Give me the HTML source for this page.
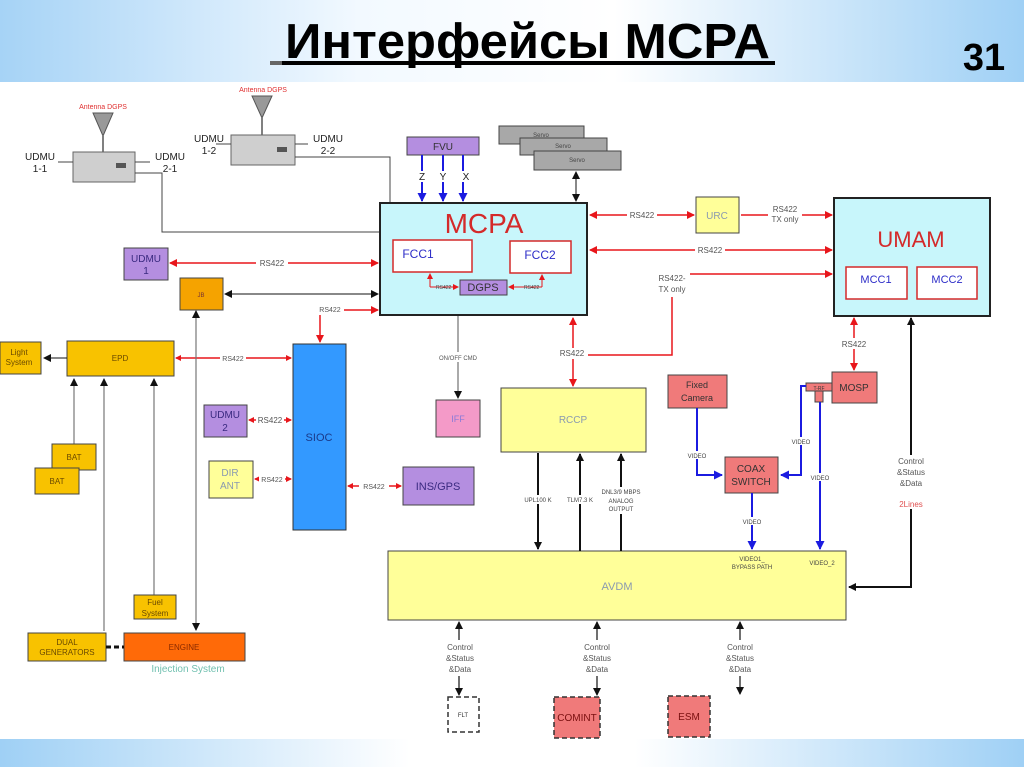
<!DOCTYPE html>
<html><head><meta charset="utf-8"><style>
html,body{margin:0;padding:0;width:1024px;height:767px;overflow:hidden;background:#fff}
svg{display:block}
text{font-family:"Liberation Sans",Arial,sans-serif}
</style></head><body>
<svg width="1024" height="767" viewBox="0 0 1024 767" xmlns="http://www.w3.org/2000/svg">
<defs>
<linearGradient id="hg" x1="0" x2="1" y1="0" y2="0">
<stop offset="0" stop-color="#a6d3f6"/><stop offset="0.35" stop-color="#f2f9ff"/><stop offset="0.6" stop-color="#ffffff"/><stop offset="1" stop-color="#9fd0f5"/></linearGradient>
<linearGradient id="fg" x1="0" x2="1" y1="0" y2="0">
<stop offset="0" stop-color="#9fd0f5"/><stop offset="0.4" stop-color="#ffffff"/><stop offset="0.62" stop-color="#ffffff"/><stop offset="1" stop-color="#9fd0f5"/></linearGradient>
<marker id="r" markerWidth="8" markerHeight="8" refX="7" refY="4" orient="auto-start-reverse" markerUnits="userSpaceOnUse"><path d="M0,0 L8,4 L0,8 z" fill="#e8161b"/></marker>
<marker id="rs" markerWidth="6" markerHeight="6" refX="5" refY="3" orient="auto-start-reverse" markerUnits="userSpaceOnUse"><path d="M0,0 L6,3 L0,6 z" fill="#e8161b"/></marker>
<marker id="k" markerWidth="8" markerHeight="8" refX="7" refY="4" orient="auto-start-reverse" markerUnits="userSpaceOnUse"><path d="M0,0 L8,4 L0,8 z" fill="#111"/></marker>
<marker id="b" markerWidth="9" markerHeight="9" refX="8" refY="4.5" orient="auto-start-reverse" markerUnits="userSpaceOnUse"><path d="M0,0 L9,4.5 L0,9 z" fill="#1b1be0"/></marker>
</defs>
<rect x="0" y="0" width="1024" height="82" fill="url(#hg)"/>
<rect x="0" y="739" width="1024" height="28" fill="url(#fg)"/>
<text x="285" y="58" font-size="49" font-weight="bold" fill="#000" textLength="485" lengthAdjust="spacingAndGlyphs">Интерфейсы MCPA</text>
<rect x="270" y="61" width="505" height="4" fill="#000"/><rect x="270" y="61" width="12" height="4" fill="#666"/>
<text x="984" y="70" text-anchor="middle" font-size="38" font-weight="bold" fill="#000">31</text>

<g font-size="8" fill="#444">
<text x="103" y="109" text-anchor="middle" fill="#e03030" font-size="7">Antenna DGPS</text>
<path d="M93,113 L113,113 L103,136 z" fill="#999" stroke="#555"/><line x1="103" y1="136" x2="103" y2="152" stroke="#555" stroke-width="1.5"/>
<rect x="73" y="152" width="62" height="30" fill="#cfcfcf" stroke="#666"/><rect x="116" y="163" width="10" height="5" fill="#555"/>
<text x="40" y="160" text-anchor="middle" font-size="10" fill="#222">UDMU</text><text x="40" y="172" text-anchor="middle" font-size="10" fill="#222">1-1</text>
<text x="170" y="160" text-anchor="middle" font-size="10" fill="#222">UDMU</text><text x="170" y="172" text-anchor="middle" font-size="10" fill="#222">2-1</text>
<line x1="58" y1="162" x2="73" y2="162" stroke="#444"/><line x1="135" y1="162" x2="150" y2="162" stroke="#444"/>
<text x="263" y="92" text-anchor="middle" fill="#e03030" font-size="7">Antenna DGPS</text>
<path d="M252,96 L272,96 L262,118 z" fill="#999" stroke="#555"/><line x1="262" y1="118" x2="262" y2="135" stroke="#555" stroke-width="1.5"/>
<rect x="231" y="135" width="64" height="30" fill="#cfcfcf" stroke="#666"/><rect x="277" y="147" width="10" height="5" fill="#555"/>
<text x="209" y="142" text-anchor="middle" font-size="10" fill="#222">UDMU</text><text x="209" y="154" text-anchor="middle" font-size="10" fill="#222">1-2</text>
<text x="328" y="142" text-anchor="middle" font-size="10" fill="#222">UDMU</text><text x="328" y="154" text-anchor="middle" font-size="10" fill="#222">2-2</text>
<line x1="216" y1="144" x2="231" y2="144" stroke="#444"/><line x1="295" y1="144" x2="308" y2="144" stroke="#444"/>
<polyline points="135,173 162,173 162,232 380,232" fill="none" stroke="#444"/>
<polyline points="295,157 390,157 390,203" fill="none" stroke="#444"/>

<rect x="380" y="203" width="207" height="112" fill="#c8f6fb" stroke="#222" stroke-width="2"/>
<text x="484" y="233" text-anchor="middle" font-size="28" fill="#d42a2a">MCPA</text>
<rect x="393" y="240" width="79" height="32" fill="#fff" stroke="#d42a2a" stroke-width="1.5"/>
<text x="418" y="258" text-anchor="middle" font-size="12" fill="#2d2dc8">FCC1</text>
<rect x="510" y="241" width="61" height="32" fill="#fff" stroke="#d42a2a" stroke-width="1.5"/>
<text x="540" y="259" text-anchor="middle" font-size="12" fill="#2d2dc8">FCC2</text>
<rect x="460" y="280" width="47" height="15" fill="#b48ee0" stroke="#444"/>
<text x="483" y="291" text-anchor="middle" font-size="11" fill="#333">DGPS</text>
<line x1="430" y1="287" x2="458" y2="287" stroke="#e8161b" marker-end="url(#rs)"/>
<line x1="430" y1="287" x2="430" y2="274" stroke="#e8161b" marker-end="url(#rs)"/>
<line x1="542" y1="287" x2="509" y2="287" stroke="#e8161b" marker-end="url(#rs)"/>
<line x1="542" y1="287" x2="542" y2="275" stroke="#e8161b" marker-end="url(#rs)"/>
<text x="436" y="289" font-size="5">RS422</text><text x="524" y="289" font-size="5">RS422</text>

<rect x="407" y="137" width="72" height="18" fill="#b48ee0" stroke="#444"/>
<text x="443" y="150" text-anchor="middle" font-size="10" fill="#333">FVU</text>
<g stroke="#1b1be0" stroke-width="2"><line x1="422" y1="155" x2="422" y2="201" marker-end="url(#b)"/><line x1="443" y1="155" x2="443" y2="201" marker-end="url(#b)"/><line x1="463" y1="155" x2="463" y2="201" marker-end="url(#b)"/></g>
<g font-size="10" fill="#222"><rect x="416" y="171" width="12" height="11" fill="#fff"/><rect x="437" y="171" width="12" height="11" fill="#fff"/><rect x="457" y="171" width="12" height="11" fill="#fff"/>
<text x="422" y="180" text-anchor="middle">Z</text><text x="443" y="180" text-anchor="middle">Y</text><text x="466" y="180" text-anchor="middle">X</text></g>
<rect x="499" y="126" width="85" height="18" fill="#a8a8a8" stroke="#444"/><text x="541" y="137" text-anchor="middle" font-size="6">Servo</text>
<rect x="520" y="138" width="87" height="17" fill="#a8a8a8" stroke="#444"/><text x="563" y="148" text-anchor="middle" font-size="6">Servo</text>
<rect x="534" y="151" width="87" height="19" fill="#a8a8a8" stroke="#444"/><text x="577" y="162" text-anchor="middle" font-size="6">Servo</text>
<line x1="576" y1="172" x2="576" y2="201" stroke="#111" marker-start="url(#k)" marker-end="url(#k)"/>

<rect x="696" y="197" width="43" height="36" fill="#ffff99" stroke="#444"/>
<text x="717" y="219" text-anchor="middle" font-size="10" fill="#8a9ab0">URC</text>
<rect x="834" y="198" width="156" height="118" fill="#c8f6fb" stroke="#222" stroke-width="2"/>
<text x="911" y="247" text-anchor="middle" font-size="22" fill="#d42a2a">UMAM</text>
<rect x="846" y="267" width="61" height="32" fill="#fff" stroke="#d42a2a" stroke-width="1.5"/>
<text x="876" y="283" text-anchor="middle" font-size="11" fill="#2d2dc8">MCC1</text>
<rect x="917" y="267" width="60" height="32" fill="#fff" stroke="#d42a2a" stroke-width="1.5"/>
<text x="947" y="283" text-anchor="middle" font-size="11" fill="#2d2dc8">MCC2</text>
<g stroke="#e8161b" stroke-width="1.5" fill="none">
<line x1="590" y1="215" x2="694" y2="215" marker-start="url(#r)" marker-end="url(#r)"/>
<line x1="741" y1="215" x2="832" y2="215" marker-end="url(#r)"/>
<line x1="590" y1="250" x2="832" y2="250" marker-start="url(#r)" marker-end="url(#r)"/>
<line x1="680" y1="274" x2="832" y2="274" marker-end="url(#r)"/>
<polyline points="672,297 672,355 588,355"/>
<line x1="573" y1="386" x2="573" y2="318" marker-start="url(#r)" marker-end="url(#r)"/>
<line x1="170" y1="263" x2="378" y2="263" marker-start="url(#r)" marker-end="url(#r)"/>
<line x1="318" y1="310" x2="378" y2="310" marker-end="url(#r)"/>
<line x1="320" y1="310" x2="320" y2="342" marker-end="url(#r)"/>
<line x1="176" y1="358" x2="291" y2="358" marker-start="url(#rs)" marker-end="url(#rs)"/>
<line x1="249" y1="420" x2="291" y2="420" marker-start="url(#rs)" marker-end="url(#rs)"/>
<line x1="255" y1="479" x2="291" y2="479" marker-start="url(#rs)" marker-end="url(#rs)"/>
<line x1="348" y1="486" x2="401" y2="486" marker-start="url(#rs)" marker-end="url(#rs)"/>
<line x1="854" y1="318" x2="854" y2="370" marker-start="url(#r)" marker-end="url(#r)"/>
</g>
<g font-size="8" fill="#555" text-anchor="middle">
<rect x="627" y="209" width="30" height="11" fill="#fff"/><text x="642" y="218">RS422</text>
<rect x="768" y="204" width="34" height="22" fill="#fff"/><text x="785" y="212">RS422</text><text x="785" y="222">TX only</text>
<rect x="695" y="244" width="30" height="11" fill="#fff"/><text x="710" y="253">RS422</text>
<rect x="654" y="270" width="36" height="26" fill="#fff"/><text x="672" y="281">RS422-</text><text x="672" y="292">TX only</text>
<rect x="557" y="348" width="30" height="11" fill="#fff"/><text x="572" y="356">RS422</text>
<rect x="256" y="257" width="32" height="11" fill="#fff"/><text x="272" y="266">RS422</text>
<rect x="316" y="304" width="28" height="11" fill="#fff"/><text x="330" y="312" font-size="7">RS422</text>
<rect x="220" y="353" width="26" height="10" fill="#fff"/><text x="233" y="361" font-size="7">RS422</text>
<rect x="256" y="415" width="28" height="10" fill="#fff"/><text x="270" y="423">RS422</text>
<rect x="259" y="474" width="26" height="10" fill="#fff"/><text x="272" y="482" font-size="7">RS422</text>
<rect x="359" y="481" width="30" height="10" fill="#fff"/><text x="374" y="489" font-size="7">RS422</text>
<rect x="840" y="338" width="30" height="11" fill="#fff"/><text x="854" y="347">RS422</text>
</g>

<rect x="124" y="248" width="44" height="32" fill="#b48ee0" stroke="#444"/>
<text x="146" y="262" text-anchor="middle" font-size="10" fill="#3a2a80">UDMU</text><text x="146" y="274" text-anchor="middle" font-size="10" fill="#3a2a80">1</text>
<rect x="180" y="278" width="43" height="32" fill="#f5a300" stroke="#444"/>
<text x="201" y="297" text-anchor="middle" font-size="6" fill="#733">JB</text>
<line x1="225" y1="294" x2="378" y2="294" stroke="#111" marker-start="url(#k)" marker-end="url(#k)"/>
<line x1="196" y1="311" x2="196" y2="630" stroke="#777" stroke-width="1.2" marker-start="url(#k)" marker-end="url(#k)"/>
<rect x="67" y="341" width="107" height="35" fill="#f8c200" stroke="#444"/>
<text x="120" y="361" text-anchor="middle" font-size="8" fill="#6a4a00">EPD</text>
<rect x="0" y="342" width="41" height="32" fill="#f8c200" stroke="#444"/>
<text x="19" y="355" text-anchor="middle" font-size="8" fill="#6a4a00">Light</text><text x="19" y="365" text-anchor="middle" font-size="8" fill="#6a4a00">System</text>
<line x1="67" y1="358" x2="44" y2="358" stroke="#111" marker-end="url(#k)"/>
<g stroke="#777" stroke-width="1.2">
<line x1="74" y1="444" x2="74" y2="379" marker-end="url(#k)"/>
<line x1="104" y1="631" x2="104" y2="379" marker-end="url(#k)"/>
<line x1="154" y1="595" x2="154" y2="379" marker-end="url(#k)"/>
</g>
<rect x="52" y="444" width="44" height="26" fill="#f8c200" stroke="#444"/><text x="74" y="460" text-anchor="middle" font-size="8" fill="#6a4a00">BAT</text>
<rect x="35" y="468" width="44" height="26" fill="#f8c200" stroke="#444"/><text x="57" y="484" text-anchor="middle" font-size="8" fill="#6a4a00">BAT</text>
<rect x="134" y="595" width="42" height="24" fill="#f8c200" stroke="#444"/>
<text x="155" y="605" text-anchor="middle" font-size="8" fill="#6a4a00">Fuel</text><text x="155" y="616" text-anchor="middle" font-size="8" fill="#6a4a00">System</text>
<rect x="28" y="633" width="78" height="28" fill="#f8c200" stroke="#444"/>
<text x="67" y="645" text-anchor="middle" font-size="8" fill="#6a4a00">DUAL</text><text x="67" y="655" text-anchor="middle" font-size="8" fill="#6a4a00">GENERATORS</text>
<rect x="124" y="633" width="121" height="28" fill="#ff6a08" stroke="#444"/>
<text x="184" y="650" text-anchor="middle" font-size="8" fill="#8a2a00">ENGINE</text>
<line x1="106" y1="647" x2="124" y2="647" stroke="#111" stroke-width="3" stroke-dasharray="5,3"/>
<text x="188" y="672" text-anchor="middle" font-size="10" fill="#70c0b0">Injection System</text>

<rect x="293" y="344" width="53" height="186" fill="#3399ff" stroke="#333"/>
<text x="319" y="441" text-anchor="middle" font-size="11" fill="#1a3a8a">SIOC</text>
<rect x="204" y="405" width="43" height="32" fill="#b48ee0" stroke="#444"/>
<text x="225" y="418" text-anchor="middle" font-size="10" fill="#3a2a80">UDMU</text><text x="225" y="431" text-anchor="middle" font-size="10" fill="#3a2a80">2</text>
<rect x="209" y="461" width="44" height="37" fill="#ffff99" stroke="#444"/>
<text x="230" y="476" text-anchor="middle" font-size="10" fill="#8a9ab0">DIR</text><text x="230" y="489" text-anchor="middle" font-size="10" fill="#8a9ab0">ANT</text>
<rect x="403" y="467" width="71" height="38" fill="#b48ee0" stroke="#444"/>
<text x="438" y="490" text-anchor="middle" font-size="11" fill="#3a2a80">INS/GPS</text>
<line x1="458" y1="316" x2="458" y2="398" stroke="#555" marker-end="url(#k)"/>
<rect x="433" y="352" width="50" height="10" fill="#fff"/><text x="458" y="360" text-anchor="middle" font-size="6" fill="#555">ON/OFF CMD</text>
<rect x="436" y="400" width="44" height="37" fill="#f49ac8" stroke="#444"/>
<text x="458" y="422" text-anchor="middle" font-size="9" fill="#8a7ad8">IFF</text>

<rect x="501" y="388" width="145" height="64" fill="#ffff99" stroke="#444"/>
<text x="573" y="423" text-anchor="middle" font-size="10" fill="#8a9ab0">RCCP</text>
<rect x="388" y="551" width="458" height="69" fill="#ffff99" stroke="#444"/>
<text x="617" y="590" text-anchor="middle" font-size="11" fill="#8a9ab0">AVDM</text>
<g stroke="#111" stroke-width="2">
<line x1="538" y1="453" x2="538" y2="549" marker-end="url(#k)"/>
<line x1="580" y1="551" x2="580" y2="454" marker-end="url(#k)"/>
<line x1="621" y1="551" x2="621" y2="454" marker-end="url(#k)"/>
</g>
<g font-size="6" fill="#444" text-anchor="middle">
<rect x="518" y="495" width="40" height="9" fill="#fff"/><text x="538" y="502">UPL100 K</text>
<rect x="562" y="495" width="36" height="9" fill="#fff"/><text x="580" y="502">TLM7.3 K</text>
<rect x="598" y="487" width="46" height="27" fill="#fff"/><text x="621" y="494">DNL3/9 MBPS</text><text x="621" y="503">ANALOG</text><text x="621" y="511">OUTPUT</text>
<text x="752" y="561">VIDEO1_</text><text x="752" y="569">BYPASS PATH</text>
<text x="822" y="565">VIDEO_2</text>
</g>

<rect x="668" y="375" width="59" height="33" fill="#f07a7a" stroke="#444"/>
<text x="697" y="388" text-anchor="middle" font-size="9" fill="#333">Fixed</text><text x="697" y="401" text-anchor="middle" font-size="9" fill="#333">Camera</text>
<rect x="725" y="457" width="53" height="36" fill="#f07a7a" stroke="#444"/>
<text x="751" y="472" text-anchor="middle" font-size="10" fill="#333">COAX</text><text x="751" y="485" text-anchor="middle" font-size="10" fill="#333">SWITCH</text>
<rect x="832" y="372" width="45" height="31" fill="#f07a7a" stroke="#444"/>
<text x="854" y="391" text-anchor="middle" font-size="10" fill="#333">MOSP</text>
<rect x="806" y="383" width="26" height="8" fill="#f07a7a" stroke="#444"/><text x="819" y="390" text-anchor="middle" font-size="5" fill="#333">T-RF</text>
<rect x="815" y="391" width="8" height="11" fill="#f07a7a" stroke="#444"/>
<g stroke="#1b1be0" stroke-width="2" fill="none">
<polyline points="697,408 697,475 722,475" marker-end="url(#b)"/>
<polyline points="806,386 801,386 801,475 781,475" marker-end="url(#b)"/>
<line x1="820" y1="402" x2="820" y2="549" marker-end="url(#b)"/>
<line x1="752" y1="493" x2="752" y2="549" marker-end="url(#b)"/>
</g>
<g font-size="6" fill="#444" text-anchor="middle">
<rect x="685" y="451" width="24" height="8" fill="#fff"/><text x="697" y="458">VIDEO</text>
<rect x="789" y="437" width="24" height="8" fill="#fff"/><text x="801" y="444">VIDEO</text>
<rect x="808" y="473" width="24" height="8" fill="#fff"/><text x="820" y="480">VIDEO</text>
<rect x="740" y="517" width="24" height="8" fill="#fff"/><text x="752" y="524">VIDEO</text>
</g>

<polyline points="911,318 911,587 849,587" fill="none" stroke="#111" stroke-width="2" marker-start="url(#k)" marker-end="url(#k)"/>
<rect x="893" y="455" width="36" height="54" fill="#fff"/>
<g font-size="8" fill="#555" text-anchor="middle">
<text x="911" y="464">Control</text><text x="911" y="475">&amp;Status</text><text x="911" y="486">&amp;Data</text>
<text x="911" y="507" fill="#e05050">2Lines</text>
</g>

<g stroke="#111" stroke-width="1.2">
<line x1="459" y1="640" x2="459" y2="622" marker-end="url(#k)"/><line x1="459" y1="676" x2="459" y2="695" marker-end="url(#k)"/>
<line x1="597" y1="640" x2="597" y2="622" marker-end="url(#k)"/><line x1="597" y1="676" x2="597" y2="695" marker-end="url(#k)"/>
<line x1="740" y1="640" x2="740" y2="622" marker-end="url(#k)"/><line x1="740" y1="676" x2="740" y2="694" marker-end="url(#k)"/>
</g>
<g font-size="8" fill="#555" text-anchor="middle">
<text x="460" y="650">Control</text><text x="460" y="661">&amp;Status</text><text x="460" y="672">&amp;Data</text>
<text x="597" y="650">Control</text><text x="597" y="661">&amp;Status</text><text x="597" y="672">&amp;Data</text>
<text x="740" y="650">Control</text><text x="740" y="661">&amp;Status</text><text x="740" y="672">&amp;Data</text>
</g>
<rect x="448" y="697" width="31" height="35" fill="#fff" stroke="#333" stroke-width="1.5" stroke-dasharray="5,3"/>
<text x="463" y="717" text-anchor="middle" font-size="6" fill="#333">FLT</text>
<rect x="554" y="697" width="46" height="41" fill="#f07a7a" stroke="#333" stroke-width="1.5" stroke-dasharray="5,3"/>
<text x="577" y="721" text-anchor="middle" font-size="10" fill="#7a1010">COMINT</text>
<rect x="668" y="696" width="42" height="41" fill="#f07a7a" stroke="#333" stroke-width="1.5" stroke-dasharray="5,3"/>
<text x="689" y="720" text-anchor="middle" font-size="10" fill="#7a1010">ESM</text>
</g>
</svg>
</body></html>
